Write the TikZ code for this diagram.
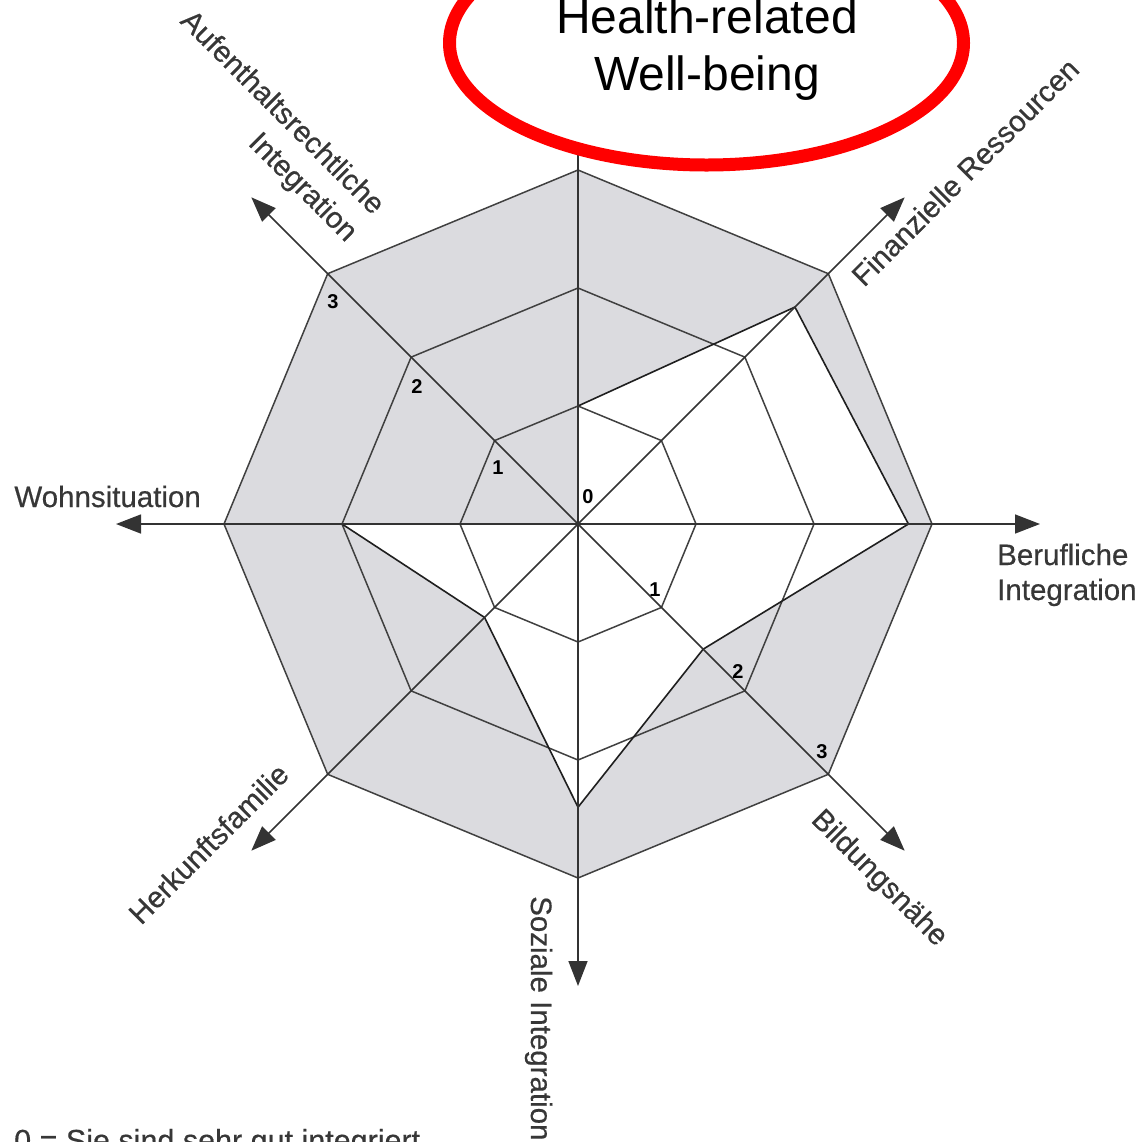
\documentclass[tikz,border=0pt]{standalone}
\usepackage{fontspec}
\setmainfont{Liberation Sans}
\newfontfamily\labfont[FakeBold=0.45]{Liberation Sans}
\usetikzlibrary{arrows.meta,shapes.geometric,calc}
\definecolor{radgray}{RGB}{219,219,223}
\definecolor{txtgray}{RGB}{55,55,55}
\definecolor{ringred}{RGB}{255,0,0}
\begin{document}
\begin{tikzpicture}[x=1pt,y=-1pt,
  octline/.style={line width=1.5pt, draw=black!75, line join=miter},
  dataline/.style={line width=1.6pt, draw=black!88, line join=miter},
  axisarrow/.style={line width=1.5pt, draw=black!80, -{Triangle[length=25pt,width=19pt]}},
  axlab/.style={font=\labfont\fontsize{29.5}{35}\selectfont, text=txtgray, inner sep=0pt},
  digitlab/.style={font=\fontsize{20}{23}\selectfont\bfseries, inner sep=0pt},
  titletext/.style={font=\fontsize{48}{57}\selectfont, anchor=base, inner sep=0pt}
]
\useasboundingbox (0,0) rectangle (1142,1141);
\clip (0,0) rectangle (1142,1141);
\coordinate (C) at (578,524);
% level octagons (angles clockwise from east on screen)
\foreach \k/\r in {1/118,2/236,3/354} {
  \foreach \i/\a in {0/-90,1/-45,2/0,3/45,4/90,5/135,6/180,7/225}
    \coordinate (L\k-\i) at ($(C)+(\a:\r)$);
}
% data polygon
\foreach \i/\a/\v in {0/-90/1,1/-45/2.6,2/0/2.8,3/45/1.5,4/90/2.4,5/135/1.12,6/180/2,7/225/0}
  \coordinate (D\i) at ($(C)+(\a:{\v*118})$);
% axis ends
\foreach \i/\a in {0/-90,1/-45,2/0,3/45,4/90,5/135,6/180,7/225}
  \coordinate (A\i) at ($(C)+(\a:462)$);

\fill[radgray] (L3-0) -- (L3-1) -- (L3-2) -- (L3-3) -- (L3-4) -- (L3-5) -- (L3-6) -- (L3-7) -- cycle;
\fill[white] (D0) -- (D1) -- (D2) -- (D3) -- (D4) -- (D5) -- (D6) -- (D7) -- cycle;
\foreach \k in {1,2,3}
  \draw[octline] (L\k-0) -- (L\k-1) -- (L\k-2) -- (L\k-3) -- (L\k-4) -- (L\k-5) -- (L\k-6) -- (L\k-7) -- cycle;
\draw[dataline] (D0) -- (D1) -- (D2) -- (D3) -- (D4) -- (D5) -- (D6) -- (D7) -- cycle;
\foreach \i in {0,...,7}
  \draw[axisarrow] (C) -- (A\i);

% scale digits
\node[digitlab] (d0) at (588,497) {0};
\node[digitlab] (nw1) at (498,468) {1};
\node[digitlab] (nw2) at (417,387) {2};
\node[digitlab] (nw3) at (333,302) {3};
\node[digitlab] (se1) at (655,590) {1};
\node[digitlab] (se2) at (738,672) {2};
\node[digitlab] (se3) at (822,752) {3};

% axis labels
\node[axlab, anchor=base east] (lW) at (201,507) {Wohnsituation};
\node[axlab, anchor=base west] (lE1) at (997,565) {Berufliche};
\node[axlab, anchor=base west] (lE2) at (997,600) {Integration};
\node[axlab, anchor=base west, rotate=45] (lNE) at (864,288) {Finanzielle Ressourcen};
\node[axlab, anchor=base west, rotate=-45] (lSE) at (810,821) {Bildungsnähe};
\node[axlab, anchor=base west, rotate=45] (lSW) at (141,926) {Herkunftsfamilie};
\node[axlab, anchor=base west, rotate=-90] (lS) at (531,896) {Soziale Integration};
\node[axlab, anchor=base east, rotate=-45] (lNW1) at (373,216) {Aufenthaltsrechtliche};
\node[axlab, anchor=base east, rotate=-45] (lNW2) at (346,243) {Integration};
\node[axlab, anchor=base west, font=\labfont\fontsize{30.5}{35}\selectfont] (legend) at (14,1151) {0 = Sie sind sehr gut integriert};

% highlight ellipse
\node[ellipse, draw=ringred, line width=13pt, fill=white, minimum width=514pt, minimum height=244pt, inner sep=0pt] (wb) at (706.5,43) {};
\node[titletext] (t1) at (707,33) {Health-related};
\node[titletext] (t2) at (707,90) {Well-being};
\end{tikzpicture}
\end{document}
